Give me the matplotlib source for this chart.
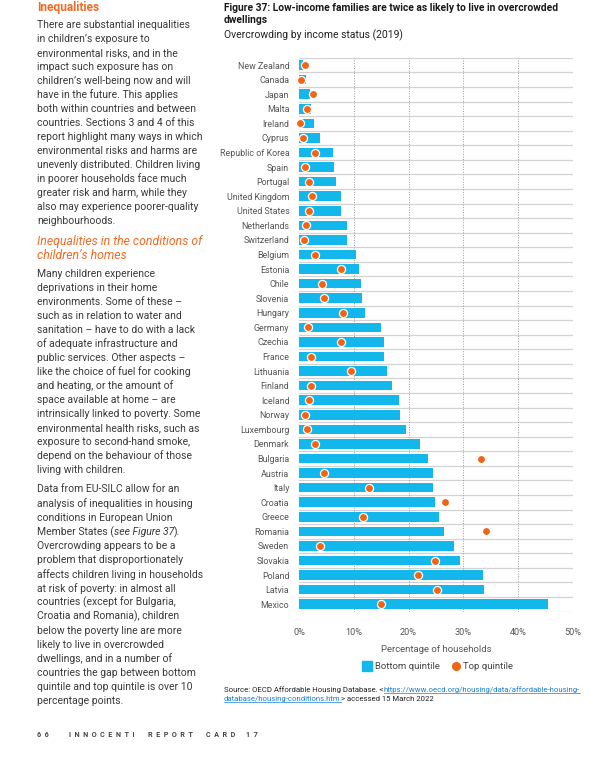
import numpy as np
import matplotlib.pyplot as plt
from matplotlib.lines import Line2D

plt.rcParams['font.family'] = ['Roboto', 'DejaVu Sans']

W, H = 610, 763

countries = ['New Zealand', 'Canada', 'Japan', 'Malta', 'Ireland', 'Cyprus',
             'Republic of Korea', 'Spain', 'Portugal', 'United Kingdom',
             'United States', 'Netherlands', 'Switzerland', 'Belgium', 'Estonia',
             'Chile', 'Slovenia', 'Hungary', 'Germany', 'Czechia', 'France',
             'Lithuania', 'Finland', 'Iceland', 'Norway', 'Luxembourg', 'Denmark',
             'Bulgaria', 'Austria', 'Italy', 'Croatia', 'Greece', 'Romania',
             'Sweden', 'Slovakia', 'Poland', 'Latvia', 'Mexico']
bottom_q = [0.8, 1.2, 2.0, 2.1, 2.7, 3.9, 6.2, 6.4, 6.7, 7.6, 7.6, 8.7, 8.7,
            10.4, 10.9, 11.3, 11.5, 12.0, 14.9, 15.5, 15.6, 16.0, 16.9, 18.2,
            18.4, 19.6, 22.0, 23.6, 24.4, 24.4, 24.9, 25.5, 26.5, 28.2, 29.3,
            33.6, 33.8, 45.5]
top_q = [1.15, 0.35, 2.6, 1.5, 0.25, 0.7, 3.0, 1.1, 1.9, 2.4, 1.9, 1.3, 1.0,
         3.0, 7.6, 4.2, 4.5, 8.1, 1.7, 7.7, 2.1, 9.5, 2.2, 1.8, 1.15, 1.5,
         3.0, 33.2, 4.5, 12.8, 26.6, 11.6, 34.1, 3.9, 24.9, 21.7, 25.2, 14.9]
xticks = [0, 10, 20, 30, 40, 50]

BLUE = '#12b8ec'
ORANGE = '#f06414'
TXT = '#3a3a3a'
HEAD = '#f26a21'

fig = plt.figure(figsize=(W / 100, H / 100), dpi=100)
renderer = fig.canvas.get_renderer()


def fx(px):
    return px / W


def fy(py):
    return 1 - py / H


def put(x, y, s, **kw):
    return fig.text(fx(x), fy(y), s, va='center', ha='left', **kw)


def run(x, y, pieces, **kw):
    # pieces of one line drawn one after the other
    out = []
    for s, extra in pieces:
        args = dict(kw)
        args.update(extra)
        t = put(x, y, s, **args)
        bb = t.get_window_extent(renderer)
        out.append((t, bb))
        x += bb.width
    return out


# ---- left column text
BODY = dict(fontsize=7.5, color=TXT)
put(37, 8, 'Inequalities', fontsize=8.6, fontweight='bold', color=HEAD)

para1 = ['There are substantial inequalities',
         'in children\u2019s exposure to',
         'environmental risks, and in the',
         'impact such exposure has on',
         'children\u2019s well-being now and will',
         'have in the future. This applies',
         'both within countries and between',
         'countries. Sections 3 and 4 of this',
         'report highlight many ways in which',
         'environmental risks and harms are',
         'unevenly distributed. Children living',
         'in poorer households face much',
         'greater risk and harm, while they',
         'also may experience poorer-quality',
         'neighbourhoods.']
for i, line in enumerate(para1):
    put(37, 25 + i * 14, line, **BODY)

put(37, 241.5, 'Inequalities in the conditions of', fontsize=8.8,
    style='italic', color=HEAD)
put(37, 255.5, 'children\u2019s homes', fontsize=8.8, style='italic', color=HEAD)

para2 = ['Many children experience',
         'deprivations in their home',
         'environments. Some of these \u2013',
         'such as in relation to water and',
         'sanitation \u2013 have to do with a lack',
         'of adequate infrastructure and',
         'public services. Other aspects \u2013',
         'like the choice of fuel for cooking',
         'and heating, or the amount of',
         'space available at home \u2013 are',
         'intrinsically linked to poverty. Some',
         'environmental health risks, such as',
         'exposure to second-hand smoke,',
         'depend on the behaviour of those',
         'living with children.']
for i, line in enumerate(para2):
    put(37, 274 + i * 14, line, **BODY)

para3 = ['Data from EU-SILC allow for an',
         'analysis of inequalities in housing',
         'conditions in European Union',
         None,
         'Overcrowding appears to be a',
         'problem that disproportionately',
         'affects children living in households',
         'at risk of poverty: in almost all',
         'countries (except for Bulgaria,',
         'Croatia and Romania), children',
         'below the poverty line are more',
         'likely to live in overcrowded',
         'dwellings, and in a number of',
         'countries the gap between bottom',
         'quintile and top quintile is over 10',
         'percentage points.']
for i, line in enumerate(para3):
    yy = 489.5 + i * 14.1
    if line is None:
        run(37, yy, [('Member States (', {}), ('see Figure 37', {'style': 'italic'}),
                     (').', {})], **BODY)
    else:
        put(37, yy, line, **BODY)

# footer
FOOT = dict(fontsize=5.2, fontweight='bold', color='#444444')
put(37, 735, '6  6', **FOOT)
put(69, 735, '  '.join('INNOCENTI'), **FOOT)
put(148, 735, '  '.join('REPORT'), **FOOT)
put(206, 735, '  '.join('CARD'), **FOOT)
put(246, 735, '1  7', **FOOT)

# ---- figure header
put(224, 8, 'Figure 37: Low-income families are twice as likely to live in overcrowded',
    fontsize=7.4, fontweight='bold', color='#1a1a1a')
put(224, 20, 'dwellings', fontsize=7.4, fontweight='bold', color='#1a1a1a')
put(224, 35, 'Overcrowding by income status (2019)', fontsize=7.5, color='#222222')

# ---- chart
ax = fig.add_axes([fx(299), fy(611.5), fx(573) - fx(299), fy(57.8) - fy(611.5)])
y = np.arange(len(countries))
ax.barh(y, bottom_q, height=0.65, color=BLUE, zorder=2)
ax.scatter(top_q, y, s=34, color=ORANGE, edgecolors='white', linewidths=0.9,
           zorder=3, clip_on=False)

for b in np.arange(-0.5, len(countries), 1.0):
    ax.axhline(b, color='#d3d3d3', lw=0.9, zorder=1)
for t in xticks[1:]:
    ax.axvline(t, color='#9a9a9a', lw=0.7, ls=(0, (1, 1.6)), zorder=1)

ax.set_xlim(0, 50)
ax.set_ylim(len(countries) - 0.5, -0.5)
ax.set_yticks(y)
ax.set_yticklabels(countries)
ax.set_xticks(xticks)
ax.set_xticklabels([f'{t}%' for t in xticks])
ax.tick_params(axis='y', length=0, pad=7, labelsize=6.4, labelcolor='#555555')
ax.tick_params(axis='x', length=0, pad=12, labelsize=6.6, labelcolor='#555555')
for sp in ax.spines.values():
    sp.set_visible(False)
ax.set_xlabel('Percentage of households', fontsize=6.8, color='#555555', labelpad=5.5)

handles = [Line2D([], [], marker='s', ls='none', color=BLUE, markersize=7),
           Line2D([], [], marker='o', ls='none', color=ORANGE, markersize=5.5)]
fig.legend(handles, ['Bottom quintile', 'Top quintile'], loc='center',
           bbox_to_anchor=(fx(438), fy(666.5)), ncol=2, frameon=False,
           fontsize=6.8, handletextpad=0.3, columnspacing=1.2, handlelength=1.0,
           labelcolor='#444444')

# ---- source
SRC = dict(fontsize=5.55, color='#222222')
LINK = '#1a7fd0'
r1 = run(224, 690, [('Source: OECD Affordable Housing Database. <', {}),
                    ('https://www.oecd.org/housing/data/affordable-housing-',
                     {'color': LINK})], **SRC)
r2 = run(224, 699, [('database/housing-conditions.htm', {'color': LINK}),
                    ('> accessed 15 March 2022', {})], **SRC)
for t, bb in (r1[1], r2[0]):
    yl = bb.y0 + 0.5
    fig.add_artist(Line2D([bb.x0 / W, bb.x1 / W], [yl / H, yl / H],
                          color=LINK, lw=0.5))

fig.savefig('out.png', dpi=100)
